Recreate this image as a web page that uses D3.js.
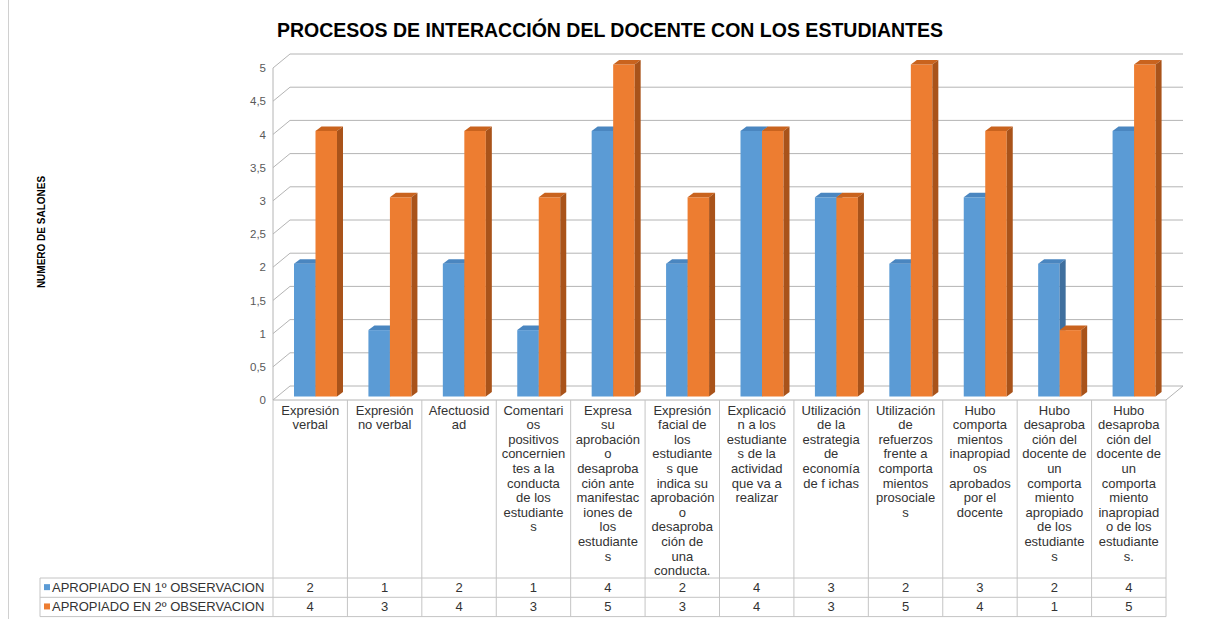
<!DOCTYPE html>
<html>
<head>
<meta charset="utf-8">
<script src="https://cdn.jsdelivr.net/npm/d3@7"></script>
<style>
  body { margin: 0; background: #fff; }
  svg { display: block; font-family: "Liberation Sans", Arial, sans-serif; }
</style>
</head>
<body>
<div id="chart"></div>
<script>
// categories (wrapped the same way as the original table cells)
const categories = [
    "Expresión\nverbal",
    "Expresión\nno verbal",
    "Afectuosid\nad",
    "Comentari\nos\npositivos\nconcernien\ntes a la\nconducta\nde los\nestudiante\ns",
    "Expresa\nsu\naprobación\no\ndesaproba\nción ante\nmanifestac\niones de\nlos\nestudiante\ns",
    "Expresión\nfacial de\nlos\nestudiante\ns que\nindica su\naprobación\no\ndesaproba\nción de\nuna\nconducta.",
    "Explicació\nn a los\nestudiante\ns de la\nactividad\nque va a\nrealizar",
    "Utilización\nde la\nestrategia\nde\neconomía\nde f ichas",
    "Utilización\nde\nrefuerzos\nfrente a\ncomporta\nmientos\nprosociale\ns",
    "Hubo\ncomporta\nmientos\ninapropiad\nos\naprobados\npor el\ndocente",
    "Hubo\ndesaproba\nción del\ndocente de\nun\ncomporta\nmiento\napropiado\nde los\nestudiante\ns",
    "Hubo\ndesaproba\nción del\ndocente de\nun\ncomporta\nmiento\ninapropiad\no de los\nestudiante\ns."
];
const obs1 = [2, 1, 2, 1, 4, 2, 4, 3, 2, 3, 2, 4];
const obs2 = [4, 3, 4, 3, 5, 3, 4, 3, 5, 4, 1, 5];
const seriesNames = ["APROPIADO EN 1º OBSERVACION", "APROPIADO EN 2º OBSERVACION"];
const yTicks = [0, 0.5, 1, 1.5, 2, 2.5, 3, 3.5, 4, 4.5, 5];

const title = "PROCESOS DE INTERACCIÓN DEL DOCENTE CON LOS ESTUDIANTES";
const yTitle = "NUMERO DE SALONES";

const W = 1205, H = 619;
const colors = [
    { front: "#5b9bd5", top: "#4a86c0", side: "#3f6f9e" },
    { front: "#ed7d31", top: "#c9631e", side: "#a9531a" }
];

// 3d offsets: front of plot -> back wall, and bars inside the depth
const depth = { dx: 17, dy: 14 };
const barPlane = { dx: 4.5, dy: 3.5 };
const barDepth = { dx: 6, dy: 4.5 };

const svg = d3.select("#chart").append("svg")
    .attr("width", W)
    .attr("height", H);

// faint page border on the left
svg.append("line")
    .attr("x1", 8.5).attr("x2", 8.5).attr("y1", 0).attr("y2", H)
    .attr("stroke", "#d0d0d0");

const x = d3.scaleBand().domain(d3.range(categories.length)).range([273, 1166]);
const xs = d3.scaleBand().domain([0, 1]).range([16.5, 59.5]);
const y = d3.scaleLinear().domain([0, 5]).range([400, 68]);

const x0 = x.range()[0], x1 = x.range()[1];

// title
svg.append("text")
    .attr("x", 610).attr("y", 37)
    .attr("text-anchor", "middle")
    .attr("font-size", 19.5).attr("font-weight", "bold")
    .attr("fill", "#000")
    .text(title);

// y title
svg.append("text")
    .attr("transform", "translate(45,232) rotate(-90)")
    .attr("text-anchor", "middle")
    .attr("font-size", 10).attr("font-weight", "bold")
    .attr("fill", "#000")
    .text(yTitle);

// walls and gridlines
const grid = svg.append("g").attr("stroke", "#b4b4b4").attr("fill", "none");
yTicks.forEach(t => {
    // back wall line
    grid.append("line")
        .attr("x1", x0 + depth.dx).attr("y1", y(t) - depth.dy)
        .attr("x2", x1 + depth.dx).attr("y2", y(t) - depth.dy);
    // side wall diagonal
    grid.append("line")
        .attr("x1", x0).attr("y1", y(t))
        .attr("x2", x0 + depth.dx).attr("y2", y(t) - depth.dy);
});
// side wall front edge
grid.append("line")
    .attr("x1", x0).attr("y1", y(5)).attr("x2", x0).attr("y2", y(0));
// floor front & right edges
grid.append("line")
    .attr("x1", x0).attr("y1", y(0)).attr("x2", x1).attr("y2", y(0));
grid.append("line")
    .attr("x1", x1).attr("y1", y(0))
    .attr("x2", x1 + depth.dx).attr("y2", y(0) - depth.dy);

// y axis labels
const fmt = d => String(d).replace(".", ",");
svg.append("g")
    .attr("transform", "translate(266,0)")
    .call(d3.axisLeft(y).tickValues(yTicks).tickFormat(fmt).tickSize(0).tickPadding(0))
    .call(g => g.select(".domain").remove())
    .selectAll("text")
    .attr("font-size", 11.5)
    .attr("font-family", "'Liberation Sans', Arial, sans-serif")
    .attr("fill", "#595959");

// bars
const series = [obs1, obs2];
const bars = svg.append("g");
categories.forEach((c, i) => {
    series.forEach((vals, s) => {
        const v = vals[i];
        const bx = x(i) + xs(s) + barPlane.dx;
        const bw = xs.bandwidth();
        const yt = y(v) - barPlane.dy;
        const yb = y(0) - barPlane.dy;
        const col = colors[s];
        bars.append("rect")
            .attr("x", bx).attr("y", yt)
            .attr("width", bw).attr("height", yb - yt)
            .attr("fill", col.front);
        bars.append("path")
            .attr("d", `M${bx},${yt}L${bx + bw},${yt}L${bx + bw + barDepth.dx},${yt - barDepth.dy}L${bx + barDepth.dx},${yt - barDepth.dy}Z`)
            .attr("fill", col.top);
        bars.append("path")
            .attr("d", `M${bx + bw},${yt}L${bx + bw + barDepth.dx},${yt - barDepth.dy}L${bx + bw + barDepth.dx},${yb - barDepth.dy}L${bx + bw},${yb}Z`)
            .attr("fill", col.side);
    });
});

// data table
const rowTop = 578, rowH = 19.3;
const tableBottom = rowTop + rowH * 2;
const tbl = svg.append("g").attr("stroke", "#c4c4c4").attr("fill", "none");
// vertical lines between categories
d3.range(categories.length + 1).forEach(i => {
    const xx = i < categories.length ? x(i) : x1;
    tbl.append("line")
        .attr("x1", xx).attr("x2", xx)
        .attr("y1", y(0)).attr("y2", tableBottom);
});
// legend column left border
tbl.append("line")
    .attr("x1", 40).attr("x2", 40).attr("y1", rowTop).attr("y2", tableBottom);
[rowTop, rowTop + rowH, tableBottom].forEach(yy => {
    tbl.append("line")
        .attr("x1", 40).attr("x2", x1)
        .attr("y1", yy).attr("y2", yy);
});

// category labels
const labels = svg.append("g")
    .attr("font-size", 13)
    .attr("fill", "#333")
    .attr("text-anchor", "middle");
categories.forEach((c, i) => {
    const t = labels.append("text")
        .attr("x", x(i) + x.bandwidth() / 2)
        .attr("y", 414.5);
    c.split("\n").forEach((line, k) => {
        t.append("tspan")
            .attr("x", x(i) + x.bandwidth() / 2)
            .attr("dy", k === 0 ? 0 : 14.6)
            .text(line);
    });
});

// legend rows + values
series.forEach((vals, s) => {
    const cy = rowTop + rowH * s + rowH / 2;
    svg.append("rect")
        .attr("x", 44).attr("y", cy - 3.5)
        .attr("width", 6).attr("height", 6)
        .attr("fill", colors[s].front);
    svg.append("text")
        .attr("x", 52).attr("y", cy + 4.5)
        .attr("font-size", 13).attr("fill", "#333")
        .text(seriesNames[s]);
    vals.forEach((v, i) => {
        svg.append("text")
            .attr("x", x(i) + x.bandwidth() / 2)
            .attr("y", cy + 4.5)
            .attr("text-anchor", "middle")
            .attr("font-size", 13).attr("fill", "#333")
            .text(v);
    });
});
</script>
</body>
</html>
